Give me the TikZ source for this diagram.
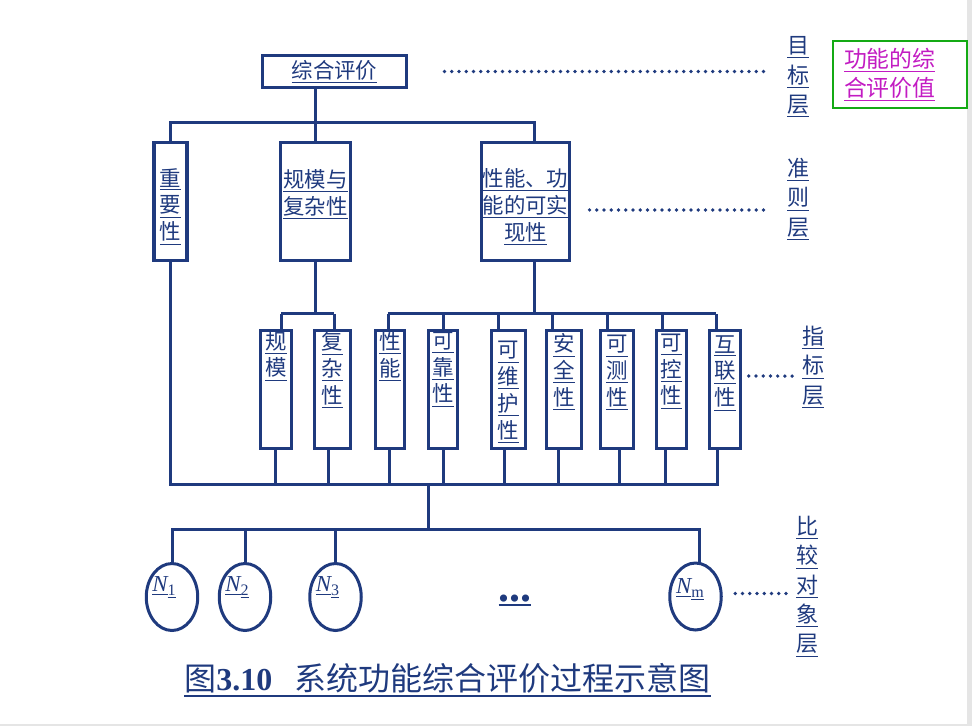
\documentclass[tikz,border=0pt]{standalone}
\usepackage{fontspec}
\usepackage{tikz}
\usetikzlibrary{shapes.geometric}
\newfontfamily\cjk{Noto Sans CJK SC}
\newfontfamily\tms{Liberation Serif}
\definecolor{navy}{HTML}{1F3A7E}
\definecolor{linkpink}{HTML}{C21BC2}
\definecolor{boxgreen}{HTML}{14AA14}
\newcommand\uln[2][0.5pt]{\vtop{\hbox{#2}\kern1.2pt\hrule height #1}}

\begin{document}
\begin{tikzpicture}[x=0.02cm,y=-0.02cm,
  wire/.style={navy,line width=0.06cm},
  box/.style={draw=navy,line width=0.065cm,inner sep=0pt},
  boxtxt/.style={navy,inner sep=0pt,anchor=north,align=center,font=\cjk\fontsize{12.2}{15.3}\selectfont},
  lvl/.style={navy,inner sep=0pt,align=center,font=\cjk\fontsize{12.5}{16.7}\selectfont},
  dots/.style={navy,line width=0.075cm,line cap=round,dash pattern=on 0pt off 0.145cm},
  obj/.style={ellipse,draw=navy,line width=0.06cm,minimum width=1.03cm,minimum height=1.34cm,inner sep=0pt},
  objtxt/.style={navy,inner sep=0pt,font=\tms\fontsize{13}{15}\selectfont}]
  \useasboundingbox (0,0) rectangle (972,726);
  \fill[black!10] (967,0) rectangle (972,726);
  \fill[black!10] (0,724) rectangle (972,726);

  % goal and criteria
  \node[box,navy,minimum width=2.88cm,minimum height=0.64cm,font=\cjk\fontsize{12.2}{15}\selectfont] (goal) at (334.5,71.5) {\uln{综合评价}};
  \node[box,minimum width=0.66cm,minimum height=2.36cm] (imp) at (170.5,201.5) {};
  \node[box,minimum width=1.40cm,minimum height=2.36cm] (scale) at (315.5,201.5) {};
  \node[box,minimum width=1.76cm,minimum height=2.36cm] (perf) at (525.5,201.5) {};
  \node[boxtxt] (imp-t) at ([yshift=-0.54cm]imp.north) {\uln{重}\\\uln{要}\\\uln{性}};
  \node[boxtxt] (scale-t) at ([yshift=-0.56cm]scale.north) {\uln{规模与}\\\uln{复杂性}};
  \node[boxtxt] (perf-t) at ([yshift=-0.54cm]perf.north) {\uln{性能、功}\\\uln{能的可实}\\\uln{现性}};

  \draw[wire] (goal.south -| scale.north) -- (scale.north);
  \draw[wire] (imp.north) -- ++(0,-18.2) -| ([xshift=0.17cm]perf.north);
  \draw[wire] (scale.south) -- ++(0,51.5) coordinate (sbus);
  \draw[wire] ([xshift=0.17cm]perf.south) -- ++(0,51.5) coordinate (pbus);
  \coordinate (bus) at (428,484);

  % indicators
  \foreach \n/\cx/\w/\ty/\dt/\db/\txt in {
    gm/276/0.62/0.04/0.10/-0.02/{\uln{规}\\\uln{模}},
    fz/332.5/0.72/0.05/0.03/-0.09/{\uln{复}\\\uln{杂}\\\uln{性}},
    xn/390/0.58/0.04/-0.04/-0.02/{\uln{性}\\\uln{能}},
    kk/443/0.58/0.05/0/0/{\uln{可}\\\uln{靠}\\\uln{性}},
    kw/508.5/0.68/0.24/-0.21/-0.09/{\uln{可}\\\uln{维}\\\uln{护}\\\uln{性}},
    aq/564/0.70/0.09/-0.24/-0.12/{\uln{安}\\\uln{全}\\\uln{性}},
    kc/617/0.66/0.12/-0.20/0.04/{\uln{可}\\\uln{测}\\\uln{性}},
    kz/671.5/0.60/0.09/-0.19/-0.13/{\uln{可}\\\uln{控}\\\uln{性}},
    hl/725/0.62/0.12/-0.18/-0.16/{\uln{互}\\\uln{联}\\\uln{性}}} {
    \node[box,minimum width=\w cm,minimum height=2.36cm] (\n) at (\cx,389.5) {};
    \node[boxtxt] (\n-t) at ([yshift=-\ty cm]\n.north) {\txt};
    \draw[wire] ([xshift=\dt cm]\n.north) coordinate (\n-up) -- (\n-up |- pbus);
    \draw[wire] ([xshift=\db cm]\n.south) coordinate (\n-dn) -- (\n-dn |- bus);
  }
  \draw[wire] (gm-up |- sbus) -- (fz-up |- sbus);
  \draw[wire] (xn-up |- pbus) -- (hl-up |- pbus);
  \draw[wire] (imp.south) |- (bus) -| (hl-dn);

  % objects
  \draw[wire] (bus) -- ++(0,45) coordinate (obus);
  \foreach \n/\x/\sub in {n1/172/1, n2/245/2, n3/335.5/3} {
    \node[obj] (\n) at (\x,597) {};
    \node[objtxt] (\n-t) at ([xshift=-0.15cm,yshift=0.19cm]\n.center) {\uln{\itshape N}\textsubscript{\uln{\sub}}};
    \draw[wire] (\n.north) -- (\n.north |- obus);
  }
  \node[obj] (nm) at (695.5,596.5) {};
  \node[objtxt] (nm-t) at ([xshift=-0.1cm,yshift=0.14cm]nm.center) {\uln{\itshape N}\textsubscript{\uln{m}}};
  \draw[wire] (n1.north) |- (obus) -| ([xshift=0.07cm]nm.north);
  \node[navy,inner sep=0pt,font=\tms\bfseries\fontsize{25}{25}\selectfont] (more) at (515,600) {\uln[1pt]{...}};

  % layers
  \node[lvl] (lv1) at (798,77) {\uln{目}\\\uln{标}\\\uln{层}};
  \node[lvl] (lv2) at (798,199) {\uln{准}\\\uln{则}\\\uln{层}};
  \node[lvl] (lv3) at (813,367) {\uln{指}\\\uln{标}\\\uln{层}};
  \node[lvl] (lv4) at (807,586.5) {\uln{比}\\\uln{较}\\\uln{对}\\\uln{象}\\\uln{层}};
  \path (goal.east -| lv1.west) coordinate (d1);
  \draw[dots] ([xshift=0.73cm]goal.east) -- ([xshift=-0.44cm]d1);
  \path ([yshift=-0.17cm]perf.east) coordinate (p2) (p2 -| lv2.west) coordinate (d2);
  \draw[dots] ([xshift=0.37cm]p2) -- ([xshift=-0.44cm]d2);
  \path ([yshift=0.27cm]hl.east) coordinate (p3) (p3 -| lv3.west) coordinate (d3);
  \draw[dots] ([xshift=0.13cm]p3) -- ([xshift=-0.1cm]d3);
  \path ([yshift=0.06cm]nm.east) coordinate (p4) (p4 -| lv4.west) coordinate (d4);
  \draw[dots] ([xshift=0.25cm]p4) -- ([xshift=-0.12cm]d4);

  \node[draw=boxgreen,line width=0.05cm,minimum width=2.68cm,minimum height=1.34cm,text width=2.24cm,inner xsep=0.22cm,align=left,text=linkpink,font=\cjk\fontsize{13}{16.5}\selectfont] (val) at (900,74.5) {\uln{功能的综}\\\uln{合评价值}};

  \node[navy,inner sep=0pt,font=\cjk\fontsize{18.2}{20}\selectfont] (title) at (447.5,680) {\uln[1.1pt]{图{\tms\bfseries 3.10}\hspace{0.7em}系统功能综合评价过程示意图}};
\end{tikzpicture}
\end{document}
